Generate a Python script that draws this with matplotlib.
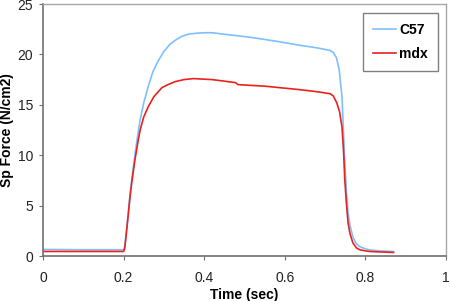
import numpy as np
import matplotlib.pyplot as plt

plt.rcParams['font.family'] = ['Liberation Sans', 'DejaVu Sans']

# time points (sec) and specific force (N/cm2)
t_c57 = [0.0, 0.1, 0.2, 0.203, 0.21, 0.216, 0.222, 0.228, 0.235, 0.241, 0.25, 0.261,
         0.272, 0.285, 0.3, 0.315, 0.328, 0.345, 0.36, 0.38, 0.4, 0.42, 0.45, 0.514,
         0.58, 0.638, 0.68, 0.712, 0.72, 0.728, 0.735, 0.742, 0.745, 0.749, 0.753,
         0.757, 0.762, 0.769, 0.776, 0.785, 0.794, 0.81, 0.836, 0.87]
f_c57 = [0.65, 0.62, 0.62, 1.0, 3.5, 6.2, 8.2, 10.0, 12.0, 13.5, 15.2, 16.8,
         18.2, 19.3, 20.3, 21.0, 21.4, 21.8, 22.0, 22.1, 22.15, 22.15, 22.0, 21.7,
         21.3, 20.9, 20.65, 20.4, 20.2, 19.7, 18.5, 15.8, 13.0, 9.2, 6.4,
         4.3, 3.0, 1.9, 1.3, 0.95, 0.8, 0.6, 0.5, 0.45]

t_mdx = [0.0, 0.1, 0.2, 0.203, 0.21, 0.216, 0.222, 0.228, 0.235, 0.241, 0.25, 0.261,
         0.275, 0.295, 0.31, 0.328, 0.35, 0.373, 0.42, 0.478, 0.484, 0.55, 0.638,
         0.68, 0.712, 0.72, 0.729, 0.736, 0.742, 0.746, 0.749, 0.753, 0.757, 0.762,
         0.769, 0.778, 0.787, 0.81, 0.84, 0.87]
f_mdx = [0.45, 0.45, 0.45, 0.8, 3.5, 5.9, 7.8, 9.5, 11.2, 12.5, 13.8, 14.8,
         15.8, 16.7, 17.0, 17.3, 17.5, 17.6, 17.5, 17.2, 17.0, 16.85, 16.5,
         16.3, 16.1, 15.9, 15.2, 14.3, 12.8, 10.3, 7.5, 5.2, 3.3, 2.2,
         1.3, 0.8, 0.6, 0.45, 0.4, 0.35]

fig = plt.figure(figsize=(4.5, 3.01), dpi=100)
ax = fig.add_axes([0.0956, 0.1495, 0.8954, 0.8372])

ax.plot(t_c57, f_c57, color='#7fbfff', lw=1.2, label='C57')
ax.plot(t_mdx, f_mdx, color='#e8231d', lw=1.2, label='mdx')

ax.set_xlim(0, 1)
ax.set_ylim(0, 25)
ax.set_xticks(np.arange(0, 1.01, 0.2))
ax.set_xticklabels(['0', '0.2', '0.4', '0.6', '0.8', '1'])
ax.set_yticks(range(0, 26, 5))
ax.tick_params(labelsize=10, length=3, color='#707070', labelcolor='#222222')
ax.tick_params(axis='x', pad=8)
ax.tick_params(axis='y', pad=4)

for side in ['left', 'bottom']:
    ax.spines[side].set_color('#707070')
    ax.spines[side].set_linewidth(1.2)
for side in ['top', 'right']:
    ax.spines[side].set_color('#a8a8a8')
    ax.spines[side].set_linewidth(1.0)

ax.set_xlabel('Time (sec)', fontsize=10, fontweight='bold')
ax.set_ylabel('Sp Force (N/cm2)', fontsize=10, fontweight='bold')
ax.xaxis.set_label_coords(0.5, -0.126)
ax.yaxis.set_label_coords(-0.071, 0.5)

leg = ax.legend(loc='upper right', bbox_to_anchor=(0.980, 0.964), frameon=True,
                fancybox=False, prop={'weight': 'bold', 'size': 10},
                handlelength=1.65, handletextpad=0.25, borderpad=0.7,
                labelspacing=0.75, borderaxespad=0)
leg.get_frame().set_edgecolor('#606060')
leg.get_frame().set_linewidth(1.0)

fig.savefig('out.png', dpi=100)
